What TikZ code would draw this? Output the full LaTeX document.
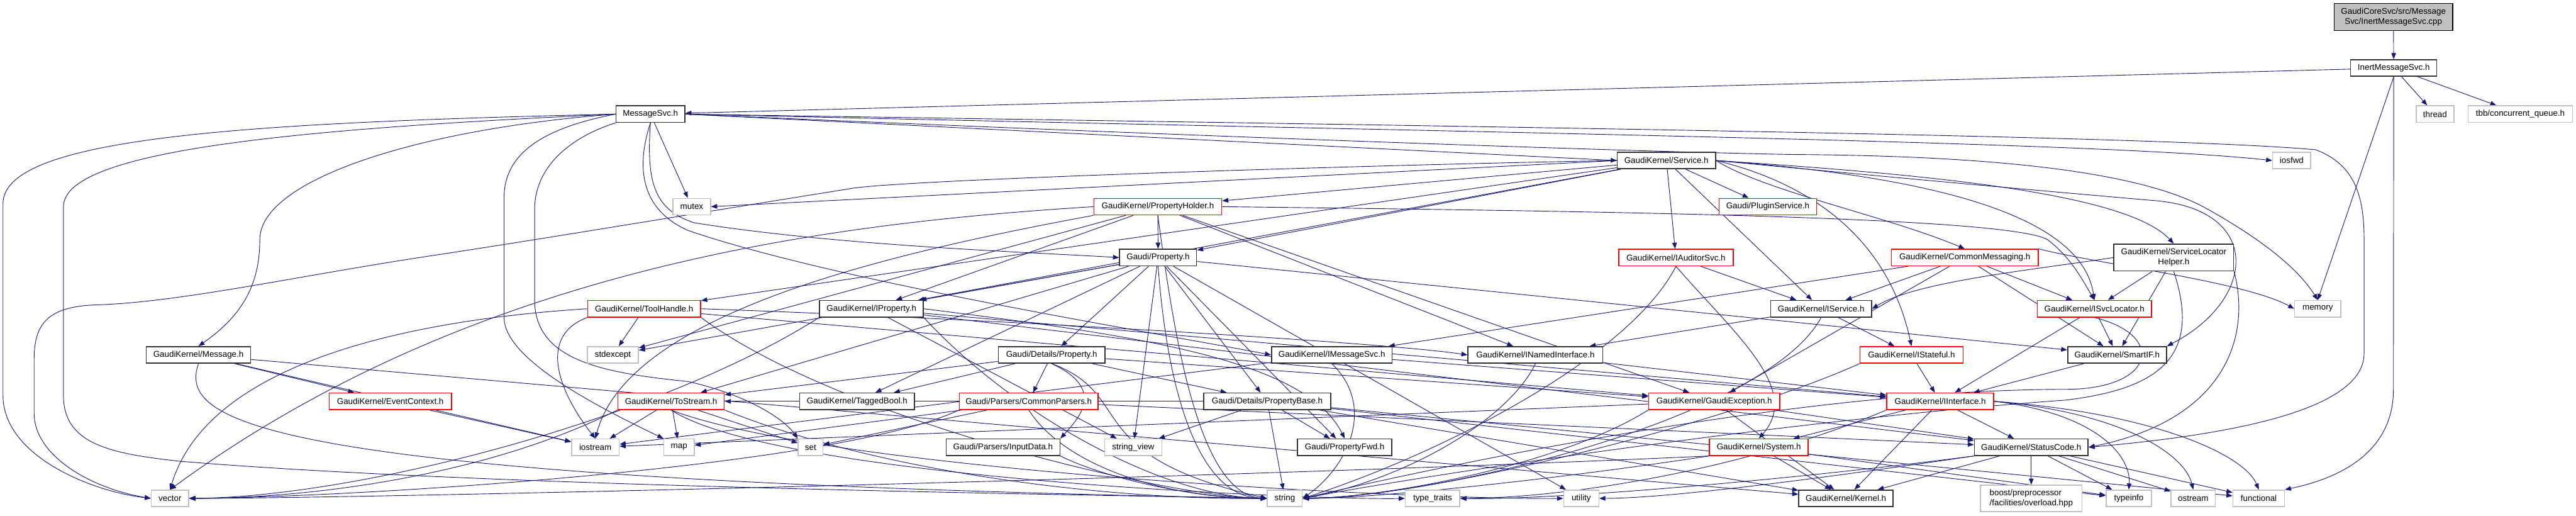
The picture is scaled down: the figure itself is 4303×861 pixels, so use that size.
\documentclass[tikz,border=0pt]{standalone}
\usepackage{fontspec}
\setmainfont{Liberation Sans}
\usetikzlibrary{arrows.meta}
\definecolor{edgec}{RGB}{25,25,112}
\definecolor{redb}{RGB}{255,0,0}
\definecolor{greyb}{RGB}{191,191,191}
\definecolor{darkb}{RGB}{50,50,50}
\pgfdeclarelayer{bg}
\pgfsetlayers{bg,main}
\newcommand{\dxfont}{\fontsize{8pt}{9.4pt}\selectfont}
\begin{document}
\begin{tikzpicture}[x=0.02cm, y=-0.02cm,
  gn/.style={draw=darkb, line width=0.9pt, fill=white, minimum height=27.6*0.02cm, inner sep=0pt, font=\dxfont},
  rn/.style={gn, draw=redb},
  ln/.style={gn, draw=greyb},
  rootn/.style={gn, draw=black, fill=greyb},
  wd/.style={minimum width=#1*0.02cm},
  dep/.style={draw=edgec, line width=0.55pt, -{Triangle[length=5.8pt,width=4.4pt]}}]
\useasboundingbox (0,0) rectangle (4303,861);
% row 0-2
\node[rootn, wd=198, minimum height=45*0.02cm, align=center] (cpp) at (3998,28.2) {GaudiCoreSvc/src/Message\\Svc/InertMessageSvc.cpp};
\node[gn, wd=144] (inerth) at (3998.5,113.5) {InertMessageSvc.h};
\node[gn, wd=115] (msgsvc) at (1086.5,190.5) {MessageSvc.h};
\node[ln, wd=63] (thread) at (4067.5,190.5) {thread};
\node[ln, wd=174] (tbb) at (4210,190.5) {tbb/concurrent\_queue.h};
% row 3
\node[gn, wd=164] (service) at (2783.6,268) {GaudiKernel/Service.h};
\node[ln, wd=63.5] (iosfwd) at (3828,268) {iosfwd};
% row 4
\node[ln, wd=63] (mutex) at (1155.5,345) {mutex};
\node[rn, wd=213.5] (pholder) at (1934,345) {GaudiKernel/PropertyHolder.h};
\node[rn, wd=163] (plugin) at (2953,345) {Gaudi/PluginService.h};
% row 5
\node[gn, wd=128.7] (gprop) at (1934.5,430) {Gaudi/Property.h};
\node[rn, wd=191] (iauditor) at (2799.5,430) {GaudiKernel/IAuditorSvc.h};
\node[rn, wd=245.5] (commsg) at (3282,430) {GaudiKernel/CommonMessaging.h};
\node[gn, wd=200, minimum height=45*0.02cm, align=center] (slh) at (3631,430) {GaudiKernel/ServiceLocator\\Helper.h};
% row 6
\node[rn, wd=188.7] (toolhandle) at (1076,515.5) {GaudiKernel/ToolHandle.h};
\node[gn, wd=173.3] (iproperty) at (1455.7,515.5) {GaudiKernel/IProperty.h};
\node[gn, wd=168.5] (iservice) at (3042,515.5) {GaudiKernel/IService.h};
\node[rn, wd=191] (isvcloc) at (3498.5,515.5) {GaudiKernel/ISvcLocator.h};
\node[ln, wd=77] (memory) at (3871.5,515.5) {memory};
% row 7
\node[gn, wd=174.5] (message) at (331.5,592.5) {GaudiKernel/Message.h};
\node[ln, wd=85.4] (stdexcept) at (1023.7,592.5) {stdexcept};
\node[gn, wd=178] (dprop) at (1756.7,592.5) {Gaudi/Details/Property.h};
\node[gn, wd=201.6] (imsgsvc) at (2224.7,592.5) {GaudiKernel/IMessageSvc.h};
\node[gn, wd=225.4] (inamed) at (2564.8,592.5) {GaudiKernel/INamedInterface.h};
\node[rn, wd=172] (istateful) at (3193,592.5) {GaudiKernel/IStateful.h};
\node[gn, wd=165] (smartif) at (3536.4,592.5) {GaudiKernel/SmartIF.h};
% row 8
\node[rn, wd=204.6] (eventctx) at (652,670) {GaudiKernel/EventContext.h};
\node[rn, wd=177.7] (tostream) at (1121,670) {GaudiKernel/ToStream.h};
\node[gn, wd=191.7] (taggedbool) at (1431.8,670) {GaudiKernel/TaggedBool.h};
\node[rn, wd=231.8] (cparsers) at (1718.4,670) {Gaudi/Parsers/CommonParsers.h};
\node[gn, wd=212.4] (pbase) at (2116.8,670) {Gaudi/Details/PropertyBase.h};
\node[rn, wd=219] (gexc) at (2863.5,670) {GaudiKernel/GaudiException.h};
\node[rn, wd=178.6] (iinterface) at (3241,670) {GaudiKernel/IInterface.h};
% row 9
\node[ln, wd=79.4] (iostream) at (994.5,746.7) {iostream};
\node[ln, wd=50.5] (map) at (1134.3,746.7) {map};
\node[ln, wd=41.3] (set) at (1354,746.7) {set};
\node[gn, wd=190] (inputdata) at (1675.5,746.7) {Gaudi/Parsers/InputData.h};
\node[ln, wd=96] (stringview) at (1893,746.7) {string\_view};
\node[gn, wd=157.5] (pfwd) at (2246.2,746.7) {Gaudi/PropertyFwd.h};
\node[rn, wd=165] (system) at (2938,746.7) {GaudiKernel/System.h};
\node[gn, wd=190] (statuscode) at (3393,746.7) {GaudiKernel/StatusCode.h};
% row 10
\node[ln, wd=62.5] (vector) at (284,832) {vector};
\node[ln, wd=58.3] (string) at (2146.2,832) {string};
\node[ln, wd=91] (typetraits) at (2393,832) {type\_traits};
\node[ln, wd=58.8] (utility) at (2641.3,832) {utility};
\node[gn, wd=157.5] (kernel) at (3083.5,832) {GaudiKernel/Kernel.h};
\node[ln, wd=170, minimum height=44*0.02cm, align=left] (boost) at (3393,832) {boost/preprocessor\\/facilities/overload.hpp};
\node[ln, wd=76] (typeinfo) at (3556,832) {typeinfo};
\node[ln, wd=74] (ostream) at (3663.6,832) {ostream};
\node[ln, wd=86] (functional) at (3773,832) {functional};

\begin{pgfonlayer}{bg}
% root and InertMessageSvc.h
\draw[dep] (cpp) -- (inerth);
\draw[dep] (inerth) -- (msgsvc);
\draw[dep] (inerth) -- (thread);
\draw[dep] (inerth) -- (tbb);
\draw[dep] (inerth.south) -- (memory.north);
\draw[dep] (inerth.south) -- (3998,650) .. controls (3998,760) and (3900,800) .. (functional.north east);
% MessageSvc.h
\draw[dep] (msgsvc) -- (mutex);
\draw[dep] (msgsvc.east) -- (service.west);
\draw[dep] (msgsvc.east) .. controls (2500,222) and (3500,236) .. (iosfwd.west);
\draw[dep] (msgsvc.east) .. controls (2500,212) and (3600,226) .. (3868,250) .. controls (3935,275) and (3949,330) .. (3949,400) -- (3949,590) .. controls (3949,690) and (3700,728) .. (statuscode.east);
\draw[dep] (msgsvc.east) .. controls (2000,228) and (2750,254) .. (3000,258) .. controls (3300,260) and (3560,282) .. (3680,345) .. controls (3780,400) and (3840,450) .. (memory.north);
\draw[dep] (msgsvc.south) .. controls (1080,300) and (1090,350) .. (1160,372) .. controls (1400,410) and (1700,420) .. (gprop.west);
\draw[dep] (msgsvc.south) .. controls (1062,280) and (1070,350) .. (1150,385) .. controls (1400,470) and (1900,550) .. (imsgsvc.west);
\draw[dep] (msgsvc.west) .. controls (700,215) and (434,300) .. (434,400) .. controls (434,480) and (400,530) .. (message.north);
\draw[dep] (msgsvc.west) .. controls (400,205) and (5,230) .. (5,340) -- (5,660) .. controls (5,760) and (150,820) .. (vector.west);
\draw[dep] (msgsvc.west) .. controls (500,215) and (106,250) .. (106,345) -- (106,660) .. controls (106,740) and (180,757) .. (300,770) .. controls (800,812) and (1800,826) .. (string.west);
\draw[dep] (msgsvc.west) .. controls (900,215) and (842,260) .. (842,330) -- (842,530) .. controls (842,600) and (1000,680) .. (map.north west);
\draw[dep] (msgsvc.south west) .. controls (950,230) and (893,280) .. (893,350) -- (893,500) .. controls (893,600) and (1000,622) .. (1150,637) .. controls (1250,660) and (1310,700) .. (set.north west);
% Service.h
\draw[dep] (service) -- (plugin);
\draw[dep] (service) -- (iauditor);
\draw[dep] (service.east) .. controls (2950,320) and (3150,360) .. (commsg.north);
\draw[dep] (service) -- (iservice);
\draw[dep] (service.east) .. controls (3000,300) and (3150,380) .. (istateful.north);
\draw[dep] (service.east) .. controls (3300,300) and (3480,380) .. (isvcloc.north);
\draw[dep] (service.east) .. controls (3200,290) and (3550,320) .. (slh.north);
\draw[dep] (service.east) .. controls (3200,300) and (3450,322) .. (3600,335) .. controls (3780,350) and (3770,500) .. (smartif.north east);
\draw[dep] (service) -- (gprop);
\draw[dep] (service) -- (pholder);
\draw[dep] (service) -- (iproperty);
\draw[dep] (service) -- (toolhandle);
\draw[dep] (service.west) -- (mutex.east);
\draw[dep] (service.west) .. controls (2300,275) and (1500,300) .. (1420,315) .. controls (1200,350) and (900,400) .. (720,427) .. controls (500,460) and (300,505) .. (160,509) .. controls (80,512) and (57,540) .. (57,600) -- (57,690) .. controls (57,760) and (150,815) .. (vector.west);
% PropertyHolder.h
\draw[dep] (pholder) -- (gprop);
\draw[dep] (pholder) -- (iproperty);
\draw[dep] (pholder) -- (stdexcept);
\draw[dep] (pholder.south west) .. controls (1500,420) and (1050,520) .. (iostream.north);
\draw[dep] (pholder.south) .. controls (1960,550) and (2000,825) .. (string.west);
\draw[dep] (pholder.west) .. controls (1400,372) and (800,440) .. (vector.north);
\draw[dep] (pholder) -- (gexc);
\draw[dep] (pholder.east) .. controls (2600,352) and (3350,360) .. (3420,400) .. controls (3460,430) and (3480,470) .. (isvcloc.north);
\draw[dep] (pholder) -- (inamed);
% Gaudi/Property.h
\draw[dep] (gprop) -- (dprop);
\draw[dep] (gprop) -- (pbase);
\draw[dep] (gprop) -- (pfwd);
\draw[dep] (gprop) -- (iproperty);
\draw[dep] (gprop) -- (smartif);
\draw[dep] (gprop) -- (taggedbool);
\draw[dep] (gprop) -- (tostream);
\draw[dep] (gprop) -- (stdexcept);
\draw[dep] (gprop.south) .. controls (1950,650) and (2000,830) .. (string.west);
\draw[dep] (gprop) -- (stringview);
\draw[dep] (gprop) -- (utility);
% Details/Property.h
\draw[dep] (dprop) -- (cparsers);
\draw[dep] (dprop) -- (pbase);
\draw[dep] (dprop.south) .. controls (1850,650) and (1800,700) .. (inputdata.north east);
\draw[dep] (dprop) -- (taggedbool);
\draw[dep] (dprop.south) .. controls (1900,660) and (1800,760) .. (string.west);
\draw[dep] (dprop) -- (tostream);
\draw[dep] (dprop) -- (gexc);
% PropertyBase.h
\draw[dep] (pbase) -- (pfwd);
\draw[dep] (pbase) -- (stringview);
\draw[dep] (pbase) -- (string);
\draw[dep] (pbase) -- (kernel);
\draw[dep] (pbase) -- (tostream);
\draw[dep] (pbase) -- (typeinfo);
\draw[dep] (pbase) -- (functional);
% ToStream.h
\draw[dep] (tostream) -- (iostream);
\draw[dep] (tostream) -- (map);
\draw[dep] (tostream) -- (set);
\draw[dep] (tostream.south east) .. controls (1500,800) and (1900,835) .. (string.west);
\draw[dep] (tostream.south west) .. controls (800,800) and (500,832) .. (vector.east);
\draw[dep] (tostream.south) .. controls (1300,800) and (2200,835) .. (typetraits.west);
\draw[dep] (tostream.south) .. controls (1400,790) and (2400,835) .. (utility.west);
% CommonParsers.h, InputData.h
\draw[dep] (cparsers) -- (map);
\draw[dep] (cparsers) -- (set);
\draw[dep] (cparsers.south) .. controls (1780,780) and (1950,832) .. (string.west);
\draw[dep] (cparsers.south west) .. controls (1400,780) and (600,830) .. (vector.east);
\draw[dep] (cparsers) -- (statuscode);
\draw[dep] (inputdata.south east) .. controls (1850,800) and (2000,832) .. (string.west);
% IProperty.h
\draw[dep] (iproperty) -- (iinterface);
\draw[dep] (iproperty.east) .. controls (1900,560) and (2180,600) .. (pfwd.north);
\draw[dep] (iproperty) -- (statuscode);
\draw[dep] (iproperty.south east) .. controls (1700,700) and (1950,830) .. (string.west);
\draw[dep] (iproperty) -- (stringview);
\draw[dep] (iproperty.south west) .. controls (1100,700) and (600,830) .. (vector.east);
% ToolHandle.h
\draw[dep] (toolhandle) -- (stdexcept);
\draw[dep] (toolhandle.south west) .. controls (900,560) and (930,650) .. (iostream.north);
\draw[dep] (toolhandle.west) .. controls (700,533) and (350,600) .. (vector.north);
\draw[dep] (toolhandle.south east) .. controls (1400,700) and (1950,830) .. (string.west);
\draw[dep] (toolhandle.east) .. controls (1600,530) and (2300,570) .. (inamed.west);
\draw[dep] (toolhandle) -- (gexc);
% Message.h, EventContext.h
\draw[dep] (message) -- (eventctx);
\draw[dep] (message) -- (iostream);
\draw[dep] (message.south) .. controls (300,700) and (400,800) .. (string.west);
\draw[dep] (message) -- (kernel);
\draw[dep] (eventctx) -- (iostream);
% interfaces
\draw[dep] (imsgsvc) -- (iinterface);
\draw[dep] (imsgsvc) -- (iostream);
\draw[dep] (imsgsvc.south) .. controls (2300,680) and (2250,780) .. (string.east);
\draw[dep] (inamed) -- (iinterface);
\draw[dep] (inamed.south) .. controls (2520,700) and (2350,800) .. (string.east);
\draw[dep] (iservice) -- (inamed);
\draw[dep] (iservice) -- (istateful);
\draw[dep] (iservice.south) .. controls (2950,700) and (2400,830) .. (string.east);
\draw[dep] (istateful) -- (iinterface);
\draw[dep] (istateful.south west) .. controls (2900,700) and (2400,830) .. (string.east);
\draw[dep] (iauditor) -- (iservice);
\draw[dep] (iauditor.south) .. controls (2900,560) and (3010,650) .. (system.north);
\draw[dep] (iauditor.south) .. controls (2720,600) and (2400,760) .. (string.east);
\draw[dep] (commsg) -- (imsgsvc);
\draw[dep] (commsg) -- (iservice);
\draw[dep] (commsg) -- (gexc);
\draw[dep] (commsg) -- (isvcloc);
\draw[dep] (commsg.north east) .. controls (3500,440) and (3750,470) .. (memory.west);
\draw[dep] (commsg) -- (smartif);
\draw[dep] (iinterface) -- (system);
\draw[dep] (iinterface) -- (statuscode);
\draw[dep] (iinterface) -- (kernel);
\draw[dep] (iinterface.east) .. controls (3500,690) and (3560,760) .. (typeinfo.north);
\draw[dep] (iinterface.east) .. controls (3550,690) and (3650,760) .. (ostream.north);
\draw[dep] (iinterface.east) .. controls (3600,690) and (3750,760) .. (functional.north);
\draw[dep] (iinterface.south west) .. controls (2900,790) and (2600,832) .. (typetraits.east);
\draw[dep] (smartif) -- (iinterface);
\draw[dep] (isvcloc) -- (iinterface);
\draw[dep] (isvcloc) -- (smartif);
\draw[dep] (isvcloc.south) .. controls (3620,560) and (3600,650) .. (3450,650) .. controls (3000,650) and (2400,780) .. (string.east);
\draw[dep] (slh.west) .. controls (3400,450) and (3200,470) .. (iservice.east);
\draw[dep] (slh) -- (isvcloc);
\draw[dep] (slh) -- (smartif);
\draw[dep] (slh.south) .. controls (3680,600) and (3600,650) .. (3450,668) .. controls (3000,700) and (2400,790) .. (string.east);
\draw[dep] (slh.south east) .. controls (3760,560) and (3720,700) .. (statuscode.east);
% StatusCode.h, System.h, GaudiException.h
\draw[dep] (statuscode) -- (boost);
\draw[dep] (statuscode) -- (kernel);
\draw[dep] (statuscode) -- (ostream);
\draw[dep] (statuscode) -- (typeinfo);
\draw[dep] (statuscode) -- (functional);
\draw[dep] (statuscode.south west) .. controls (3100,790) and (2800,832) .. (utility.east);
\draw[dep] (statuscode.south west) .. controls (3000,800) and (2600,835) .. (typetraits.east);
\draw[dep] (system) -- (kernel);
\draw[dep] (system.south west) .. controls (2600,800) and (2300,832) .. (string.east);
\draw[dep] (system) -- (typeinfo);
\draw[dep] (system.south west) .. controls (2000,800) and (600,832) .. (vector.east);
\draw[dep] (gexc) -- (kernel);
\draw[dep] (gexc) -- (statuscode);
\draw[dep] (gexc.south west) .. controls (2600,780) and (2300,832) .. (string.east);
\draw[dep] (gexc) -- (iostream);
\end{pgfonlayer}
\end{tikzpicture}
\end{document}
